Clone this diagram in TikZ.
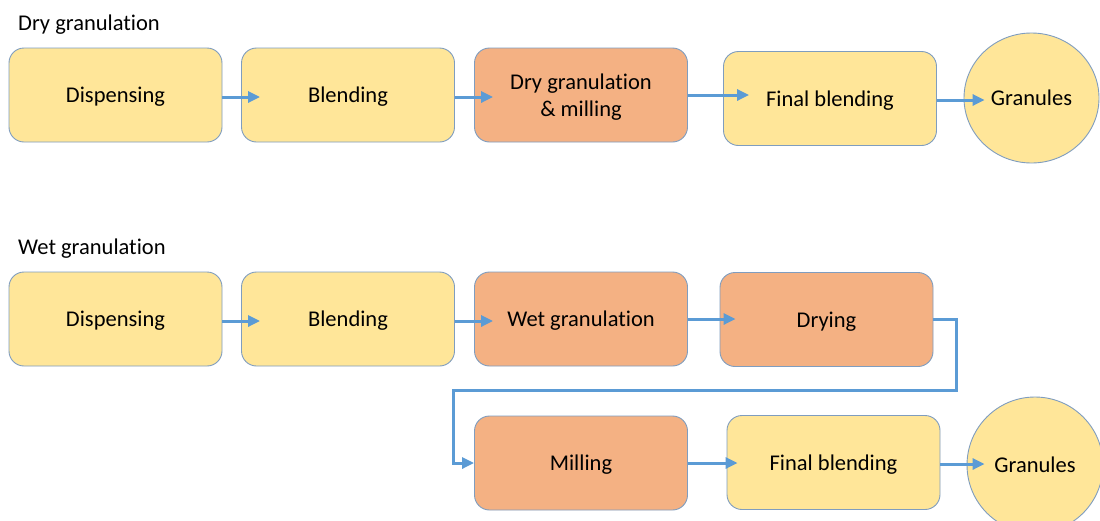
\documentclass[tikz,border=0pt]{standalone}
\usepackage{fontspec}
\setmainfont{Carlito}[Ligatures=NoCommon]
\usetikzlibrary{arrows.meta,shapes.geometric,calc}

\definecolor{boxyellow}{HTML}{FFE699}
\definecolor{boxorange}{HTML}{F4B183}
\definecolor{boxedge}{HTML}{7F9DBF}
\definecolor{flowblue}{HTML}{5B9BD5}

\tikzset{
  stage/.style={draw=boxedge, line width=0.9pt, rounded corners=15pt,
    minimum width=213pt, minimum height=94pt, inner sep=2pt, align=center,
    text depth=0pt, font=\fontsize{22.5}{27}\selectfont},
  plain/.style={stage, fill=boxyellow},
  granstep/.style={stage, fill=boxorange},
  product/.style={draw=boxedge, line width=0.9pt, fill=boxyellow, ellipse,
    inner sep=0pt, text depth=0pt, font=\fontsize{22.5}{27}\selectfont},
  heading/.style={anchor=west, inner sep=0pt, font=\fontsize{22.5}{27}\selectfont},
  flow/.style={draw=flowblue, line width=3pt,
    -{Triangle[length=12pt,width=11pt]}}
}

\begin{document}
\begin{tikzpicture}[x=1pt,y=-1pt]
  \useasboundingbox (0,0) rectangle (1100,520);
  \clip (0,0) rectangle (1100,520);
  \fill[white] (0,0) rectangle (1100,520);

  % Dry granulation route
  \node[heading] (hdry) at (18,25) {Dry granulation};
  \node[plain]    (d1) at (115.5,95)  {Dispensing};
  \node[plain]    (d2) at (348,95)    {Blending};
  \node[granstep] (d3) at (581,95)    {Dry granulation\\\& milling};
  \node[plain]    (d4) at (830,98.5)  {Final blending};
  \node[product, minimum width=135pt, minimum height=130pt] (d5) at (1031.5,98) {Granules};

  \draw[flow] ($(d1.east)+(0,2)$) -- ($(d1.east -| d2.west)+(19,2)$);
  \draw[flow] ($(d2.east)+(0,2)$) -- ($(d2.east -| d3.west)+(19,2)$);
  \draw[flow] (d3.east) -- ($(d3.east -| d4.west)+(26,0)$);
  \draw[flow] ($(d4.east)+(0,1.5)$) -- ($(d4.east -| d5.west)+(21,1.5)$);

  % Wet granulation route
  \node[heading] (hwet) at (18,249) {Wet granulation};
  \node[plain]    (w1) at (115.5,319) {Dispensing};
  \node[plain]    (w2) at (348,319)   {Blending};
  \node[granstep] (w3) at (581,319)   {Wet granulation};
  \node[granstep] (w4) at (826.5,319.5) {Drying};
  \node[granstep] (w5) at (581,463)   {Milling};
  \node[plain]    (w6) at (833.5,462.5) {Final blending};
  \node[product, minimum width=136pt, minimum height=136pt] (w7) at (1035,465) {Granules};

  \coordinate (turnR) at (956,390);
  \coordinate (turnL) at (453,390);

  \draw[flow] ($(w1.east)+(0,2)$) -- ($(w1.east -| w2.west)+(19,2)$);
  \draw[flow] ($(w2.east)+(0,2)$) -- ($(w2.east -| w3.west)+(19,2)$);
  \draw[flow] (w3.east) -- ($(w3.east -| w4.west)+(16,0)$);
  \draw[flow] (w4.east) -| (turnR) -- (turnL) |- (w5.west);
  \draw[flow] (w5.east) -- ($(w5.east -| w6.west)+(11,0)$);
  \draw[flow] ($(w6.east)+(0,1.5)$) -- ($(w6.east -| w7.west)+(18,1.5)$);
\end{tikzpicture}
\end{document}
